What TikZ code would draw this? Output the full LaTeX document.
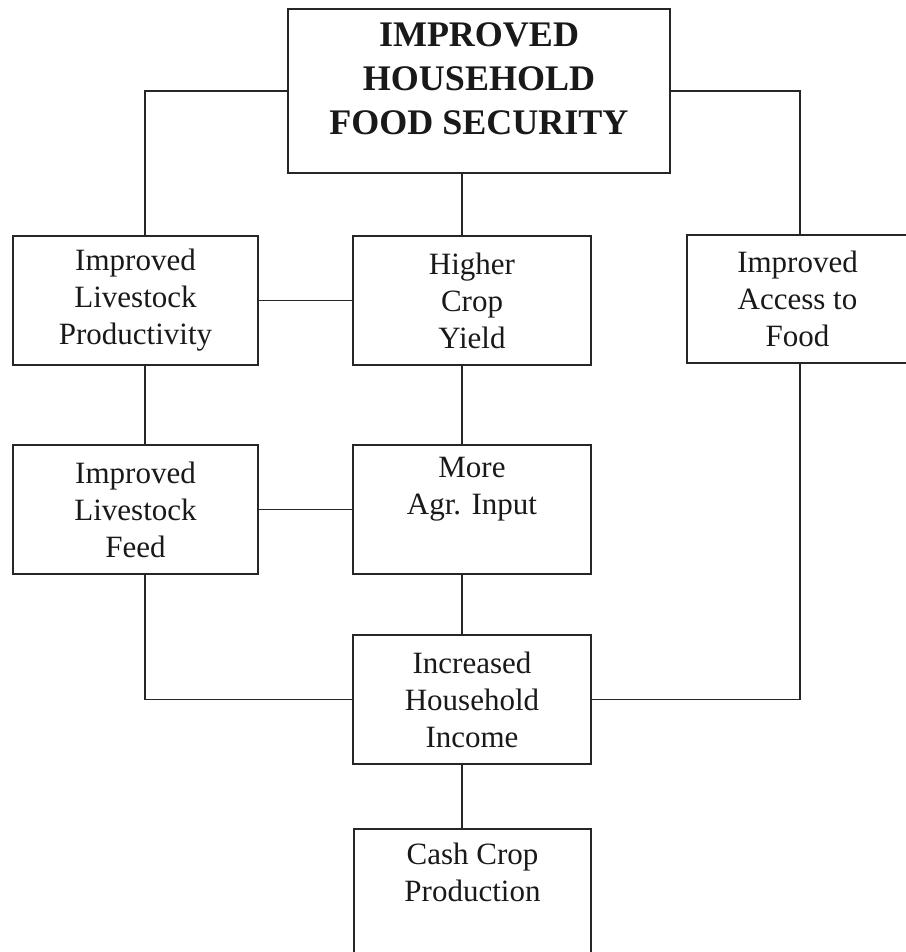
\documentclass[tikz,border=0pt]{standalone}
\usepackage{fontspec}
\setmainfont{Liberation Serif}
\begin{document}
\begin{tikzpicture}[x=1pt,y=-1pt,
  box/.style={draw=black!85, line width=1.8pt, align=center, inner sep=0pt,
    text=black!90, font=\fontsize{31}{37}\selectfont},
  link/.style={draw=black!85, line width=1.8pt}]
\useasboundingbox (0,0) rectangle (905,952);
\fill[white] (0,0) rectangle (905,952);
% column x-positions of the vertical connectors
\coordinate (cl) at (145,0);
\coordinate (cm) at (462,0);
\coordinate (cr) at (800,0);
% boxes
\node[box, minimum width=382pt, minimum height=164pt] (top) at (479,91) {};
\node[inner sep=0pt, align=center, text=black!90,
  font=\bfseries\fontsize{36}{44}\selectfont] (toptext) at (479,79)
  {IMPROVED\\HOUSEHOLD\\FOOD SECURITY};
\node[box, minimum width=245pt, minimum height=129pt] (lp) at (135.5,300.5)
  {Improved\\Livestock\\Productivity};
\node[box, minimum width=238pt, minimum height=129pt] (hc) at (472,300.5)
  {Higher\\Crop\\Yield};
\node[box, minimum width=221pt, minimum height=128pt] (ac) at (797.5,299)
  {Improved\\Access to\\Food};
\node[box, minimum width=245pt, minimum height=129pt] (lf) at (135.5,509.5)
  {Improved\\Livestock\\Feed};
\node[box, minimum width=238pt, minimum height=129pt] (ai) at (472,509.5)
  {More\\Agr. Input\\\strut};
\node[box, minimum width=238pt, minimum height=129pt] (inc) at (472,699.5)
  {Increased\\Household\\Income};
\node[box, minimum width=237pt, minimum height=134pt, anchor=north] (cc) at (472.5,828)
  {Cash Crop\\Production\\\strut};
% connectors
\draw[link] (top.west) -| (lp.north -| cl);
\draw[link] (top.east) -| (ac.north -| cr);
\draw[link] (top.south -| cm) -- (hc.north -| cm);
\draw[link] (lp.east) -- (hc.west);
\draw[link] (lp.south -| cl) -- (lf.north -| cl);
\draw[link] (hc.south -| cm) -- (ai.north -| cm);
\draw[link] (lf.east) -- (ai.west);
\draw[link] (lf.south -| cl) |- (inc.west);
\draw[link] (ac.south -| cr) |- (inc.east);
\draw[link] (ai.south -| cm) -- (inc.north -| cm);
\draw[link] (inc.south -| cm) -- (cc.north -| cm);
\end{tikzpicture}
\end{document}
